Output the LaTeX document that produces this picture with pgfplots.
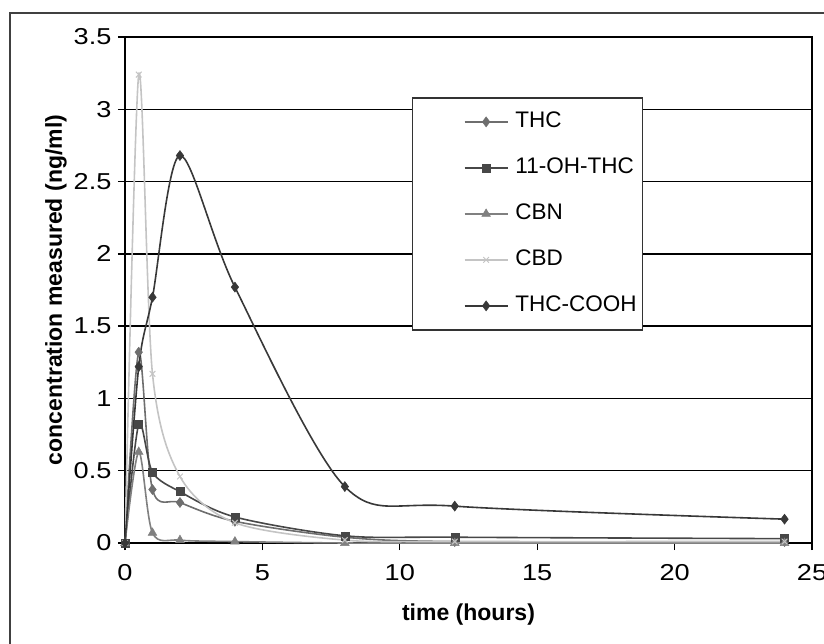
\documentclass[border=0pt]{standalone}
\usepackage{pgfplots}
\pgfplotsset{compat=1.18}
\usepackage{fontspec}
\setmainfont{Liberation Sans}
\newfontfamily\tickfont{Liberation Sans}[FakeStretch=1.18]
\usetikzlibrary{calc}

\definecolor{thc}{HTML}{6E6E6E}
\definecolor{ohthc}{HTML}{474747}
\definecolor{cbn}{HTML}{808080}
\definecolor{cbd}{HTML}{C4C4C4}
\definecolor{cooh}{HTML}{383838}

\begin{document}
\begin{tikzpicture}
\begin{axis}[
  scale only axis, width=687pt, height=506pt,
  xmin=0, xmax=25, ymin=0, ymax=3.5,
  xtick={0,5,10,15,20,25},
  ytick={0,0.5,1,1.5,2,2.5,3,3.5},
  yticklabels={0,0.5,1,1.5,2,2.5,3,3.5},
  ymajorgrids,
  grid style={black, line width=1.3pt},
  axis line style={black, line width=1.3pt},
  tick style={black, line width=1.3pt},
  tick align=outside, xtick pos=left, ytick pos=left,
  major tick length=7pt,
  /pgf/number format/assume math mode=true,
  tick label style={font=\tickfont\fontsize{23}{27}\selectfont},
  xticklabel style={yshift=-11pt},
  yticklabel style={xshift=-3pt},
  xlabel={time (hours)}, ylabel={concentration measured (ng/ml)},
  label style={font=\bfseries\fontsize{23}{27}\selectfont},
  xlabel style={yshift=-16pt},
  ylabel style={yshift=0pt},
  legend cell align=left,
  legend image code/.code={%
    \path (-45pt,0pt) (43pt,0pt);
    \draw[mark repeat=2,mark phase=2,#1] plot coordinates {(0pt,0pt) (21.5pt,0pt) (43pt,0pt)};},
  legend style={at={(0.418,0.881)}, anchor=north west,
    draw=black!80, line width=1.3pt, fill=white,
    font=\fontsize{22.5}{26}\selectfont,
    inner xsep=6pt, inner ysep=14pt, row sep=26pt, column sep=7pt,
    nodes={inner sep=0pt, text height=16pt, text depth=4pt}},
  every axis plot/.append style={line width=1.6pt, smooth},
]
\coordinate (sw) at (rel axis cs:0,0);
\coordinate (ne) at (rel axis cs:1,1);

% THC
\addplot[thc, mark=diamond*, mark size=5pt, mark options={fill=thc, line width=0.5pt}]
  coordinates {(0,0) (0.5,1.32) (1,0.37) (2,0.28) (4,0.15) (8,0.04) (12,0.01) (24,0.01)};
\addlegendentry{THC}
% 11-OH-THC
\addplot[ohthc, mark=square*, mark size=4pt, mark options={fill=ohthc, line width=0.5pt}]
  coordinates {(0,0) (0.5,0.82) (1,0.49) (2,0.355) (4,0.18) (8,0.05) (12,0.04) (24,0.03)};
\addlegendentry{11-OH-THC}
% CBN
\addplot[cbn, mark=triangle*, mark size=5pt, mark options={fill=cbn, line width=0.5pt}]
  coordinates {(0,0) (0.5,0.63) (1,0.07) (2,0.02) (4,0.01) (8,0) (12,0) (24,0)};
\addlegendentry{CBN}
% CBD
\addplot[cbd, mark=x, mark size=4pt, mark options={line width=1pt}]
  coordinates {(0,0) (0.5,3.24) (1,1.17) (2,0.46) (4,0.14) (8,0.02) (12,0.01) (24,0.01)};
\addlegendentry{CBD}
% THC-COOH
\addplot[cooh, mark=diamond*, mark size=5pt, mark options={fill=cooh, line width=0.5pt}]
  coordinates {(0,0) (0.5,1.22) (1,1.70) (2,2.68) (4,1.77) (8,0.39) (12,0.255) (24,0.165)};
\addlegendentry{THC-COOH}
\end{axis}

% chart area border (left and top edges)
\draw[black!75, line width=2pt]
  ($(sw)+(-115pt,-120pt)$) -- ($(sw |- ne)+(-115pt,24pt)$) -- ($(ne)+(30pt,24pt)$);
\pgfresetboundingbox
\path[use as bounding box] ($(sw)+(-125pt,-100pt)$) rectangle ($(ne)+(12pt,37pt)$);
\end{tikzpicture}
\end{document}
